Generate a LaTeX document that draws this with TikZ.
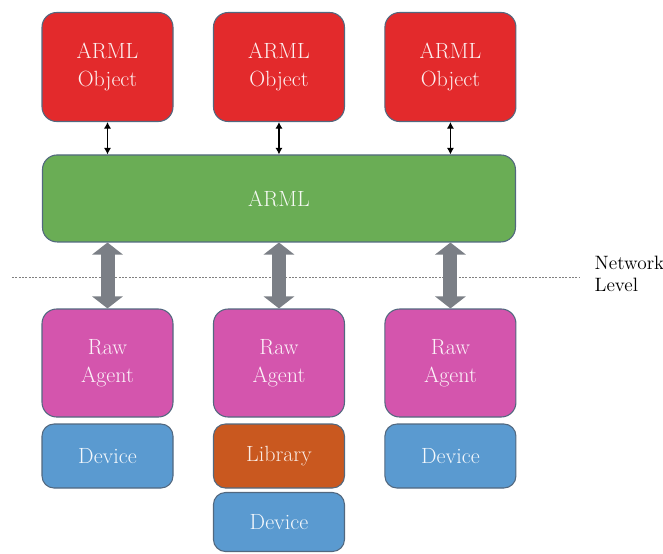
\documentclass[tikz,border=0pt]{standalone}
\usetikzlibrary{arrows.meta}

\definecolor{objred}{HTML}{E32A2C}
\definecolor{armlgreen}{HTML}{6AAD55}
\definecolor{agentpink}{HTML}{D455AD}
\definecolor{libraryorange}{HTML}{C9581F}
\definecolor{deviceblue}{HTML}{5A9AD0}
\definecolor{edgegray}{HTML}{52687F}
\definecolor{pipegray}{HTML}{7B7F86}

\begin{document}
\begin{tikzpicture}[x=0.75pt, y=-0.75pt, node distance=128.6pt,
    box/.style={rounded corners=11pt, draw=edgegray, line width=0.8pt, align=center,
        font=\fontsize{16.5}{21}\selectfont, minimum width=98.25pt, inner sep=2pt},
    objbox/.style={box, fill=objred, text=white!93!objred, minimum height=81.75pt},
    armlbar/.style={box, fill=armlgreen, text=white!93!armlgreen, minimum width=354.75pt, minimum height=65.25pt},
    agentbox/.style={box, fill=agentpink, text=white!93!agentpink, minimum height=81pt},
    libbox/.style={box, rounded corners=9pt, fill=libraryorange, text=white!88!libraryorange, minimum height=48pt},
    devbox/.style={box, rounded corners=9pt, fill=deviceblue, text=white!93!deviceblue, minimum height=48pt},
    link/.style={<->, >={Latex[length=5pt,width=5.5pt]}, line width=0.9pt, black},
    pipe/.style={{Triangle[width=22.5pt,length=9pt]}-{Triangle[width=22.5pt,length=9pt]}, line width=10.5pt, pipegray}]
    \useasboundingbox (0,0) rectangle (663,553);

    % Define nodes
    \node (obj_left) [objbox] at (107.5,67) {ARML\\Object};
    \node (obj_mid) [objbox, right of=obj_left] {ARML\\Object};
    \node (obj_right) [objbox, right of=obj_mid] {ARML\\Object};
    \node (arml) [armlbar, below of=obj_mid, node distance=98.6pt] {ARML};
    \node (agent_mid) [agentbox, below of=arml, node distance=123.4pt] {Raw\\Agent};
    \node (agent_left) [agentbox, left of=agent_mid] {Raw\\Agent};
    \node (agent_right) [agentbox, right of=agent_mid] {Raw\\Agent};
    \node (dev_left) [devbox, below of=agent_left, node distance=69.75pt] {Device};
    \node (library) [libbox, below of=agent_mid, node distance=69.75pt] {Library};
    \node (dev_right) [devbox, below of=agent_right, node distance=69.75pt] {Device};
    \node (dev_mid) [devbox, below of=library, node distance=49.5pt, minimum height=44.25pt] {Device};
    \node (net_level) [anchor=west, align=left, font=\fontsize{14.5}{16.5}\selectfont] at (590,274) {Network\\Level};

    % Network boundary
    \coordinate (net_start) at (12,277);
    \coordinate (net_end) at (580,277);
    \draw[gray, line width=0.6pt, dash pattern=on 1.5pt off 1pt] (net_start) -- (net_end);

    % Draw arrows
    \draw[link] (obj_left.south) -- (obj_left.south |- arml.north);
    \draw[link] (obj_mid.south) -- (obj_mid.south |- arml.north);
    \draw[link] (obj_right.south) -- (obj_right.south |- arml.north);
    \draw[pipe] (arml.south -| agent_left.north) -- (agent_left.north);
    \draw[pipe] (arml.south -| agent_mid.north) -- (agent_mid.north);
    \draw[pipe] (arml.south -| agent_right.north) -- (agent_right.north);
\end{tikzpicture}
\end{document}
